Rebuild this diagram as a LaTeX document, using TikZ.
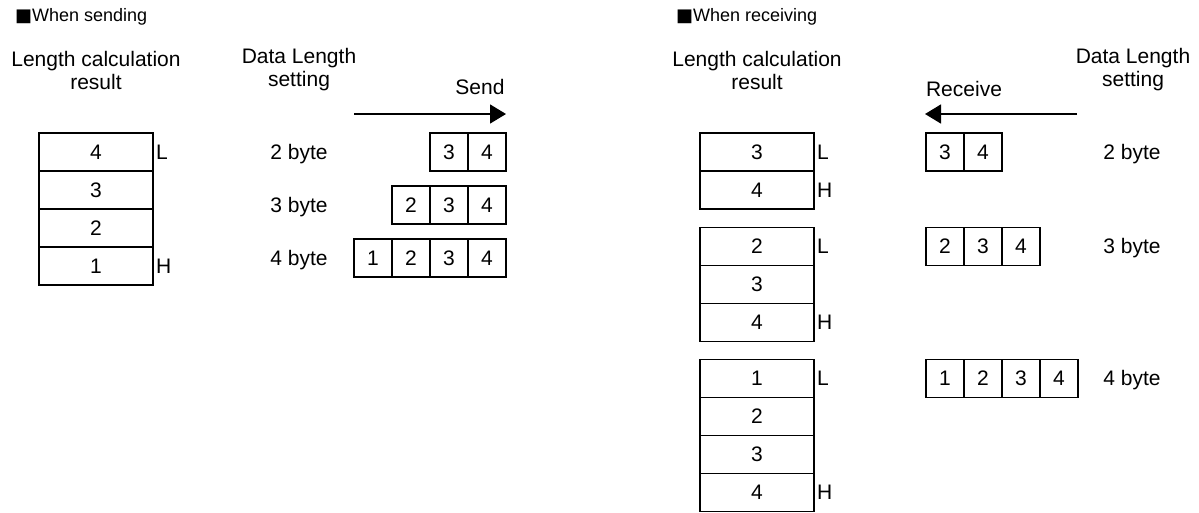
\documentclass[tikz,border=0pt]{standalone}
\usepackage{fontspec}
\setmainfont{Liberation Sans}
\newfontfamily\symfont{DejaVu Sans}
\usetikzlibrary{arrows.meta,positioning}
\newcommand{\mainsize}{\fontsize{21}{23}\selectfont}
\newcommand{\headsize}{\fontsize{18}{20}\selectfont}
\tikzset{
  arr/.style={-{Triangle[length=16pt,width=19pt]},line width=1.5pt,draw=black},
  stackcell/.style={draw,line width=1.8pt,minimum width=114pt,minimum height=38pt,inner sep=0pt,outer sep=0pt,font=\mainsize},
  bytecell/.style={draw,line width=1.6pt,minimum width=38pt,minimum height=38pt,inner sep=0pt,outer sep=0pt,font=\mainsize},
  tag/.style={inner sep=3pt,font=\mainsize},
  caption/.style={align=center,inner sep=0pt,font=\mainsize},
  header/.style={anchor=west,inner sep=0pt,font=\headsize}
}

\begin{document}
\begin{tikzpicture}[x=1pt,y=-1pt]
  \useasboundingbox (0,0) rectangle (1199,512);
  % sending side
  \node[header] (shead) at (15,17) {{\symfont ■}When sending};
  \node[caption] (scalc) at (96,70) {Length calculation\\result};
  \node[caption] (sset) at (299,70) {Data Length\\setting};
  \node[caption] (sendlbl) at (480,87) {Send};
  \coordinate (stail) at (354,114); \coordinate (stip) at (506,114);
  \draw[arr] (stail)--(stip);
  \node[stackcell] (sr1) at (96,152) {4};
  \node[stackcell,below=0pt of sr1] (sr2) {3};
  \node[stackcell,below=0pt of sr2] (sr3) {2};
  \node[stackcell,below=0pt of sr3] (sr4) {1};
  \node[tag,right=0pt of sr1] (srl) {L}; \node[tag,right=0pt of sr4] (srh) {H};
  \node[caption] (s2lbl) at (299,154) {2 byte};
  \node[bytecell] (s2a) at (449,152) {3}; \node[bytecell,right=0pt of s2a] (s2b) {4};
  \node[caption] (s3lbl) at (299,207) {3 byte};
  \node[bytecell] (s3a) at (411,205) {2}; \node[bytecell,right=0pt of s3a] (s3b) {3};
  \node[bytecell,right=0pt of s3b] (s3c) {4};
  \node[caption] (s4lbl) at (299,260) {4 byte};
  \node[bytecell] (s4a) at (373,258) {1}; \node[bytecell,right=0pt of s4a] (s4b) {2};
  \node[bytecell,right=0pt of s4b] (s4c) {3}; \node[bytecell,right=0pt of s4c] (s4d) {4};
  % receiving side
  \node[header] (rhead) at (676,17) {{\symfont ■}When receiving};
  \node[caption] (rcalc) at (757,70) {Length calculation\\result};
  \node[caption] (rset) at (1133,70) {Data Length\\setting};
  \node[caption] (recvlbl) at (964,89) {Receive};
  \coordinate (rtail) at (1077,114); \coordinate (rtip) at (925,114);
  \draw[arr] (rtail)--(rtip);
  % 2 byte
  \node[stackcell] (r2a) at (757,152) {3};
  \node[stackcell,below=0pt of r2a] (r2b) {4};
  \node[tag,right=0pt of r2a] (r2l) {L}; \node[tag,right=0pt of r2b] (r2h) {H};
  \node[bytecell] (c2a) at (945,152) {3}; \node[bytecell,right=0pt of c2a] (c2b) {4};
  \node[caption] (r2lbl) at (1132,154) {2 byte};
  % 3 byte
  \node[stackcell] (r3a) at (757,246.5) {2};
  \node[stackcell,below=0pt of r3a] (r3b) {3};
  \node[stackcell,below=0pt of r3b] (r3c) {4};
  \node[tag,right=0pt of r3a] (r3l) {L}; \node[tag,right=0pt of r3c] (r3h) {H};
  \node[bytecell] (c3a) at (945,246.5) {2}; \node[bytecell,right=0pt of c3a] (c3b) {3};
  \node[bytecell,right=0pt of c3b] (c3c) {4};
  \node[caption] (r3lbl) at (1132,248.5) {3 byte};
  % 4 byte
  \node[stackcell] (r4a) at (757,378.5) {1};
  \node[stackcell,below=0pt of r4a] (r4b) {2};
  \node[stackcell,below=0pt of r4b] (r4c) {3};
  \node[stackcell,below=0pt of r4c] (r4d) {4};
  \node[tag,right=0pt of r4a] (r4l) {L}; \node[tag,right=0pt of r4d] (r4h) {H};
  \node[bytecell] (c4a) at (945,378.5) {1}; \node[bytecell,right=0pt of c4a] (c4b) {2};
  \node[bytecell,right=0pt of c4b] (c4c) {3}; \node[bytecell,right=0pt of c4c] (c4d) {4};
  \node[caption] (r4lbl) at (1132,380.5) {4 byte};
\end{tikzpicture}
\end{document}
